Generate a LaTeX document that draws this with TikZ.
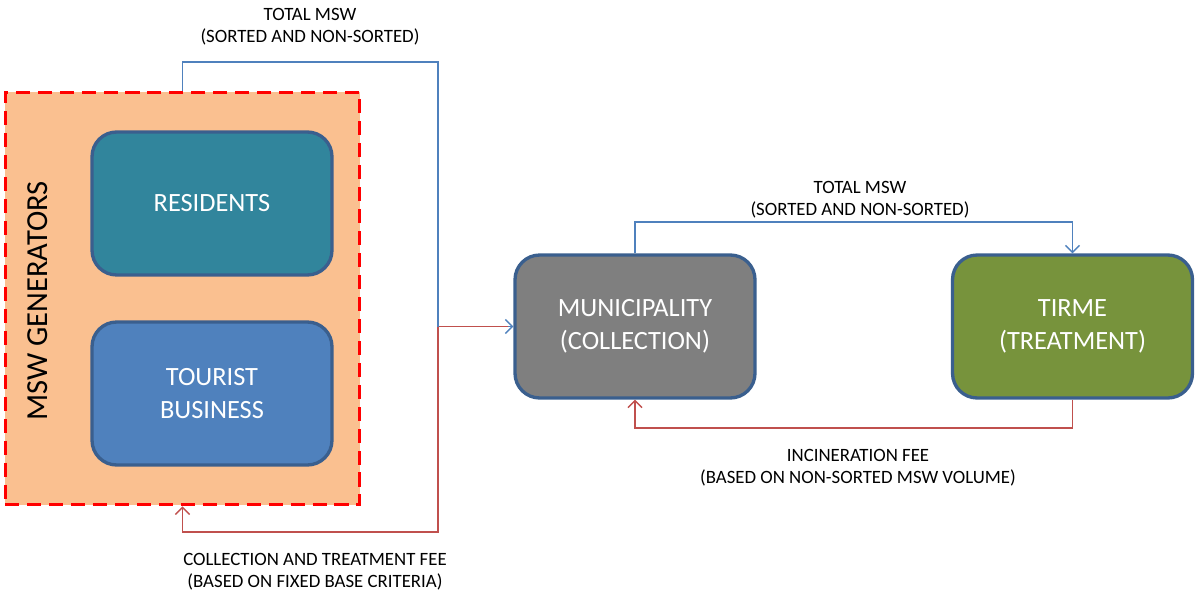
\documentclass[tikz,border=0pt]{standalone}
\usepackage{fontspec}
\setmainfont{Carlito}
\usetikzlibrary{arrows.meta}
\definecolor{genfill}{HTML}{FAC090}
\definecolor{boxedge}{HTML}{3A5F8E}
\definecolor{resfill}{HTML}{31859C}
\definecolor{tourfill}{HTML}{4F81BD}
\definecolor{munfill}{HTML}{7F7F7F}
\definecolor{tirmefill}{HTML}{77933C}
\definecolor{flowblue}{HTML}{4F81BD}
\definecolor{flowred}{HTML}{C0504D}
\begin{document}
\begin{tikzpicture}[x=0.02cm, y=-0.02cm,
  gen/.style={fill=genfill, draw=red, line width=1.7pt, dash pattern=on 8pt off 4.5pt,
    minimum width=7.1cm, minimum height=8.26cm, inner sep=0pt},
  box/.style={draw=boxedge, line width=1.9pt, rounded corners=14pt, text=white,
    minimum width=4.8cm, minimum height=2.86cm, align=center,
    font=\fontsize{15}{19}\selectfont},
  money/.style={flowred, line width=0.8pt, -{Straight Barb[length=4pt,width=8pt]}},
  waste/.style={flowblue, line width=0.8pt, -{Straight Barb[length=4pt,width=8pt]}},
  lbl/.style={align=center, font=\fontsize{10.7}{12.5}\selectfont}]
\useasboundingbox (0,0) rectangle (1195,594);
% generators block
\node[gen] (gen) at (182.5,298.5) {};
\node[rotate=90, font=\fontsize{17.4}{20}\selectfont] (gentxt) at (38,301) {MSW GENERATORS};
\node[box, fill=resfill] (res) at (212,203.5) {RESIDENTS};
\node[box, fill=tourfill] (tour) at (212,393.5) {TOURIST\\BUSINESS};
% collection and treatment
\node[box, fill=munfill] (mun) at (635,326.5) {MUNICIPALITY\\(COLLECTION)};
\node[box, fill=tirmefill] (tirme) at (1072.5,326.5) {TIRME\\(TREATMENT)};
% flows between generators and municipality
\coordinate (split) at (438,326.5);
\draw[money] (mun.west) -- (split) |- (182.5,532) -- (gen.south);
\draw[waste, -] (gen.north) |- (438,62) -- (split);
\draw[waste] ([xshift=-3pt]mun.west) -- (mun.west);
\node[lbl] (wastetop) at (310,27) {TOTAL MSW\\(SORTED AND NON-SORTED)};
\node[lbl] (feebot) at (315,572) {COLLECTION AND TREATMENT FEE\\(BASED ON FIXED BASE CRITERIA)};
% flows between municipality and Tirme
\draw[waste] (mun.north) |- (1072.5,222) -- (tirme.north);
\draw[money] (tirme.south) |- (635,428) -- (mun.south);
\node[lbl] (wastemid) at (860,200) {TOTAL MSW\\(SORTED AND NON-SORTED)};
\node[lbl] (feemid) at (858,468) {INCINERATION FEE\\(BASED ON NON-SORTED MSW VOLUME)};
\end{tikzpicture}
\end{document}
